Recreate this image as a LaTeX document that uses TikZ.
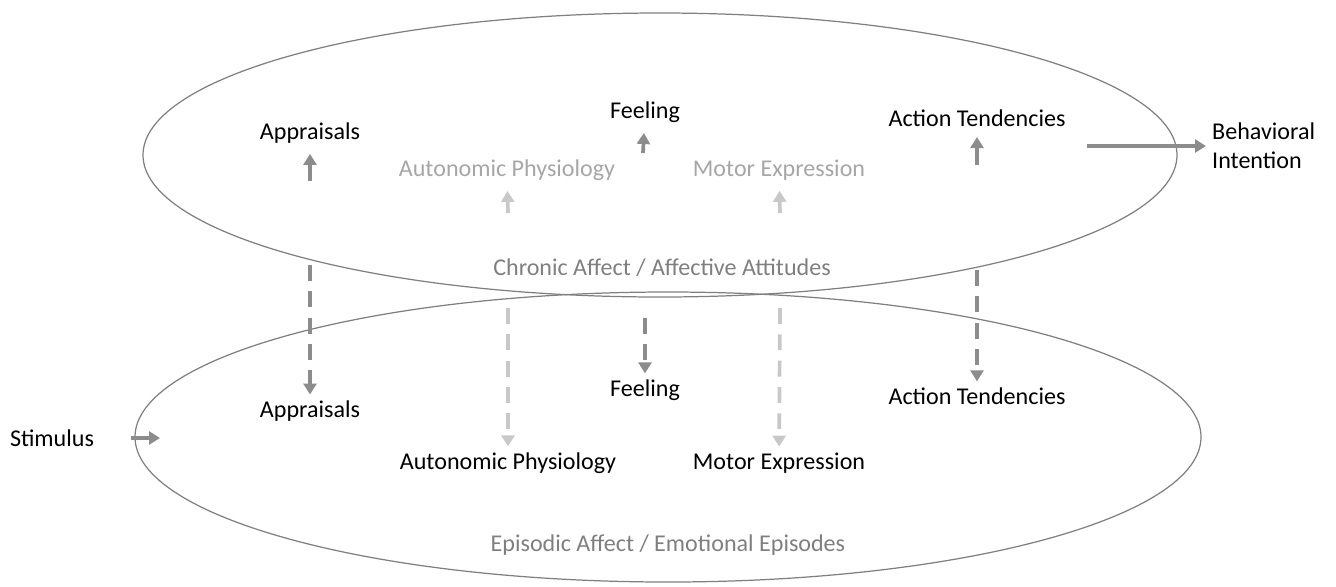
\documentclass[tikz,border=0pt]{standalone}
\usepackage{fontspec}
\setmainfont{Carlito}
\usetikzlibrary{arrows.meta}
\definecolor{rim}{HTML}{7F7F7F}
\definecolor{darkarr}{HTML}{8C8C8C}
\definecolor{lightarr}{HTML}{C8C8C8}
\definecolor{softtext}{HTML}{A6A6A6}
\definecolor{midtext}{HTML}{7F7F7F}

\begin{document}
\begin{tikzpicture}[x=0.02cm,y=-0.02cm,
	font=\fontsize{13.7}{16.5}\selectfont,
	arr/.style={line width=2.1pt,-{Triangle[length=0.22cm,width=0.26cm]}},
	uparr/.style={arr,shorten >=2.5pt},
	dasharr/.style={arr,dash pattern=on 9pt off 6pt}]
	\useasboundingbox (0,0) rectangle (1336,586);
	\draw[rim,line width=0.7pt] (660,155) ellipse [x radius=517,y radius=142];
	\draw[rim,line width=0.7pt] (668,437) ellipse [x radius=533,y radius=145];
	\node(tapp) at (310,133) {Appraisals};
	\node[softtext](tauto) at (507,170) {Autonomic Physiology};
	\node(tfeel) at (645,112) {Feeling};
	\node[softtext](tmotor) at (779,170) {Motor Expression};
	\node(tact) at (977,118) {Action Tendencies};
	\node[midtext](chron) at (662,268) {Chronic Affect / Affective Attitudes};
	\node[anchor=west,align=left](bint) at (1206,146) {Behavioral\\Intention};
	\node(bapp) at (310,411) {Appraisals};
	\node(bauto) at (508,463) {Autonomic Physiology};
	\node(bfeel) at (645,390) {Feeling};
	\node(bmotor) at (779,463) {Motor Expression};
	\node(bact) at (977,396) {Action Tendencies};
	\node(stim) at (52,438) {Stimulus};
	\node[midtext](epis) at (668,545) {Episodic Affect / Emotional Episodes};
	\coordinate(ua) at (310,181);
	\coordinate(uf) at (643,153);
	\coordinate(ut) at (977,165);
	\coordinate(uau) at (508,213);
	\coordinate(umo) at (780,213);
	\coordinate(da) at (310,265);
	\coordinate(dau) at (508,308);
	\coordinate(df) at (645,318);
	\coordinate(dmo) at (780,308);
	\coordinate(dt) at (977,270);
	\coordinate(bout) at (1087,146);
	\coordinate(sin) at (160,438);
	\draw[uparr,darkarr] (ua) -- (tapp);
	\draw[uparr,darkarr] (uf) -- (tfeel);
	\draw[uparr,darkarr] (ut) -- (tact);
	\draw[uparr,lightarr] (uau) -- (tauto);
	\draw[uparr,lightarr] (umo) -- (tmotor);
	\draw[dasharr,darkarr] (da) -- (bapp);
	\draw[dasharr,lightarr] (dau) -- (bauto);
	\draw[dasharr,darkarr] (df) -- (bfeel);
	\draw[dasharr,lightarr] (dmo) -- (bmotor);
	\draw[dasharr,darkarr] (dt) -- (bact);
	\draw[arr,darkarr] (bout) -- (bint);
	\draw[arr,darkarr,shorten <=0.62cm] (stim) -- (sin);
\end{tikzpicture}
\end{document}
